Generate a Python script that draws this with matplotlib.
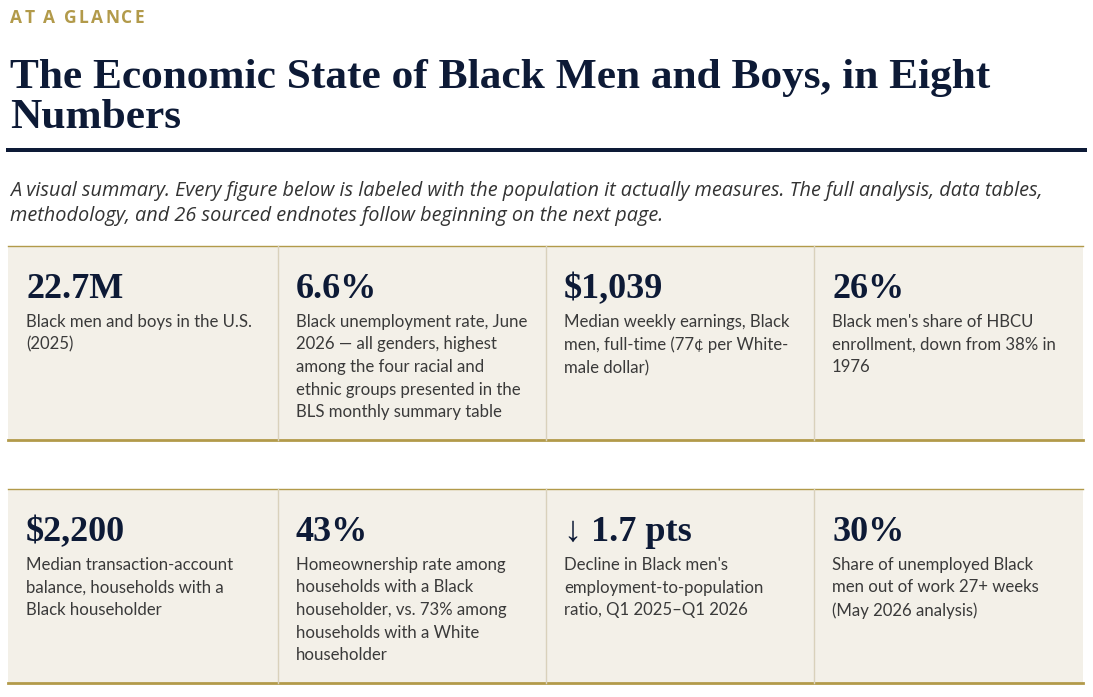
import matplotlib
matplotlib.use("Agg")
import matplotlib.pyplot as plt
from matplotlib.patches import Rectangle

# content
kicker = "AT A GLANCE"
title_lines = ["The Economic State of Black Men and Boys, in Eight", "Numbers"]
subtitle_lines = [
    "A visual summary. Every figure below is labeled with the population it actually measures. The full analysis, data tables,",
    "methodology, and 26 sourced endnotes follow beginning on the next page.",
]
stat_values = ["22.7M", "6.6%", "$1,039", "26%",
               "$2,200", "43%", "\u2193 1.7 pts", "30%"]
stat_notes = [
    "Black men and boys in the U.S.\n(2025)",
    "Black unemployment rate, June\n2026 \u2014 all genders, highest\namong the four racial and\nethnic groups presented in the\nBLS monthly summary table",
    "Median weekly earnings, Black\nmen, full-time (77\u00a2 per White-\nmale dollar)",
    "Black men's share of HBCU\nenrollment, down from 38% in\n1976",
    "Median transaction-account\nbalance, households with a\nBlack householder",
    "Homeownership rate among\nhouseholds with a Black\nhouseholder, vs. 73% among\nhouseholds with a White\nhouseholder",
    "Decline in Black men's\nemployment-to-population\nratio, Q1 2025\u2013Q1 2026",
    "Share of unemployed Black\nmen out of work 27+ weeks\n(May 2026 analysis)",
]

NAVY = "#0d1a36"
GOLD = "#b29a4a"
CREAM = "#f3f0e8"
DIVIDER = "#d9d1bb"
BODY = "#3a3a3a"

W, H = 1093, 697
fig = plt.figure(figsize=(W / 100, H / 100), dpi=100)
ax = fig.add_axes([0, 0, 1, 1])
ax.set_xlim(0, W)
ax.set_ylim(H, 0)
ax.axis("off")
renderer = fig.canvas.get_renderer()

serif = ["Liberation Serif", "DejaVu Serif"]
sans = ["Lato", "DejaVu Sans"]

# kicker with letter spacing, one character at a time
x = 10
for ch in kicker:
    t = ax.text(x, 23, ch, fontsize=12.5, fontweight="bold", color=GOLD,
                family=["Open Sans", "DejaVu Sans"], va="baseline")
    w = t.get_window_extent(renderer).width if ch != " " else 4.5
    x += w + 2.2

for i, line in enumerate(title_lines):
    ax.text(10, 88 + i * 40, line, fontsize=31.2, fontweight="bold", color=NAVY,
            family=serif, va="baseline")
ax.add_patch(Rectangle((6, 148), 1081, 4, color=NAVY, lw=0))
for i, line in enumerate(subtitle_lines):
    ax.text(10, 196 + i * 25, line, fontsize=14.3, style="italic", color="#333333",
            family=["Open Sans", "DejaVu Sans"], va="baseline")

# grid of stat cards
left, right = 8, 1083
col_x = [8, 278, 546, 814, 1083]
rows = [(246, 440), (489, 683)]
for r, (top, bot) in enumerate(rows):
    ax.add_patch(Rectangle((left, top), right - left, bot - top, color=CREAM, lw=0))
    ax.plot([left, right], [top, top], color=GOLD, lw=1.0)
    ax.plot([left, right], [bot, bot], color=GOLD, lw=2.0)
    for cx in col_x[1:-1]:
        ax.plot([cx, cx], [top, bot], color=DIVIDER, lw=1.0)
    for c in range(4):
        k = r * 4 + c
        tx = col_x[c] + 18
        ax.text(tx, top + 52, stat_values[k], fontsize=26, fontweight="bold",
                color=NAVY, family=serif, va="baseline")
        ax.text(tx, top + 68, stat_notes[k], fontsize=12.1, color=BODY,
                family=sans, va="top", linespacing=1.50)

fig.savefig("out.png", dpi=100, facecolor="white")
